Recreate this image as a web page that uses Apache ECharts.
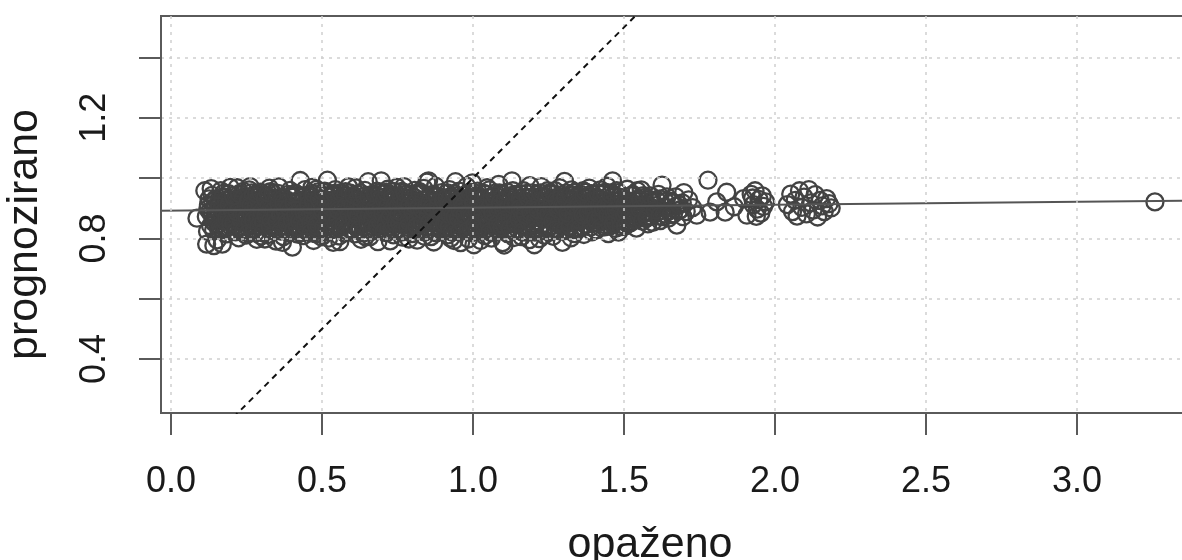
<!DOCTYPE html>
<html>
<head>
<meta charset="utf-8">
<script src="https://cdn.jsdelivr.net/npm/echarts@6/dist/echarts.min.js"></script>
<style>
html,body{margin:0;padding:0;background:#fff;}
#chart{width:1182px;height:560px;}
</style>
</head>
<body>
<div id="chart"></div>
<script>
// axis titles and ticks
const xTitle = 'opaženo';
const yTitle = 'prognozirano';
const xTicks = [0, 0.5, 1.0, 1.5, 2.0, 2.5, 3.0];
const yTicks = [0.4, 0.6, 0.8, 1.0, 1.2, 1.4];
const yLabels = [0.4, 0.8, 1.2];

// observed vs predicted points [opaženo, prognozirano]
const cloudLow = [
[0.086,0.867],[0.112,0.958],[0.118,0.781],[0.124,0.912],[0.131,0.842],[0.136,0.943],[0.142,0.776],[0.128,0.889],[0.147,0.930],[0.139,0.858],[0.121,0.823],[0.145,0.903],[0.133,0.965],
[0.153,0.795],[0.191,0.948],[0.167,0.861],[0.179,0.903],[0.158,0.827],[0.196,0.969],[0.172,0.884],[0.185,0.815],[0.162,0.921],[0.188,0.876],[0.176,0.938],[0.154,0.845],[0.194,0.897],[0.165,0.958],[0.181,0.833],[0.160,0.912],[0.198,0.869],[0.170,0.781],[0.187,0.929],[0.175,0.889],
[0.204,0.912],[0.243,0.853],[0.219,0.968],[0.231,0.826],[0.209,0.881],[0.247,0.937],[0.224,0.802],[0.236,0.895],[0.213,0.844],[0.240,0.956],[0.227,0.869],[0.205,0.925],[0.249,0.811],[0.216,0.903],[0.233,0.946],[0.211,0.862],[0.245,0.877],[0.221,0.835],[0.238,0.917],[0.228,0.889],
[0.252,0.839],[0.291,0.906],[0.266,0.951],[0.279,0.818],[0.258,0.892],[0.296,0.864],[0.271,0.927],[0.284,0.797],[0.262,0.972],[0.288,0.851],[0.275,0.883],[0.254,0.915],[0.294,0.941],[0.268,0.829],[0.281,0.872],[0.259,0.961],[0.298,0.808],[0.270,0.899],[0.286,0.935],[0.277,0.858],
[0.303,0.921],[0.342,0.873],[0.318,0.812],[0.329,0.955],[0.307,0.846],[0.347,0.903],[0.322,0.889],[0.336,0.934],[0.311,0.798],[0.339,0.824],[0.326,0.967],[0.304,0.866],[0.344,0.857],[0.315,0.942],[0.332,0.881],[0.309,0.908],[0.348,0.791],[0.320,0.834],[0.337,0.914],[0.325,0.878],
[0.352,0.884],[0.391,0.819],[0.366,0.937],[0.378,0.862],[0.357,0.971],[0.396,0.898],[0.372,0.806],[0.385,0.927],[0.361,0.851],[0.388,0.946],[0.375,0.873],[0.353,0.831],[0.394,0.959],[0.364,0.912],[0.381,0.842],[0.359,0.893],[0.398,0.869],[0.369,0.787],[0.386,0.905],[0.377,0.924],
[0.402,0.771],[0.441,0.913],[0.417,0.858],[0.428,0.992],[0.406,0.937],[0.447,0.826],[0.421,0.896],[0.435,0.871],[0.411,0.949],[0.438,0.809],[0.426,0.884],[0.404,0.838],[0.444,0.962],[0.415,0.867],[0.432,0.921],[0.409,0.902],[0.448,0.852],[0.419,0.814],[0.437,0.941],[0.424,0.879],
[0.453,0.901],[0.492,0.841],[0.467,0.969],[0.479,0.816],[0.457,0.866],[0.496,0.932],[0.472,0.793],[0.486,0.887],[0.461,0.944],[0.489,0.858],[0.476,0.912],[0.454,0.823],[0.494,0.876],[0.465,0.927],[0.482,0.963],[0.459,0.849],[0.498,0.805],[0.470,0.891],[0.487,0.954],[0.474,0.834]
];
const cloudMid = [
[0.503,0.864],[0.542,0.905],[0.518,0.993],[0.529,0.828],[0.507,0.918],[0.547,0.871],[0.522,0.801],[0.536,0.946],[0.511,0.853],[0.539,0.889],[0.526,0.937],[0.504,0.811],[0.544,0.962],[0.515,0.881],[0.532,0.843],[0.509,0.957],[0.548,0.898],[0.520,0.927],[0.537,0.787],[0.525,0.868],
[0.552,0.923],[0.591,0.832],[0.566,0.877],[0.578,0.955],[0.557,0.808],[0.596,0.901],[0.571,0.941],[0.585,0.859],[0.561,0.893],[0.588,0.971],[0.575,0.818],[0.553,0.869],[0.594,0.846],[0.564,0.936],[0.581,0.884],[0.559,0.789],[0.598,0.914],[0.569,0.853],[0.586,0.928],[0.574,0.897],
[0.603,0.846],[0.642,0.959],[0.618,0.903],[0.629,0.797],[0.607,0.935],[0.647,0.872],[0.622,0.825],[0.636,0.914],[0.611,0.968],[0.639,0.838],[0.626,0.886],[0.604,0.879],[0.644,0.806],[0.615,0.947],[0.632,0.861],[0.609,0.815],[0.648,0.925],[0.620,0.893],[0.637,0.851],[0.625,0.919],
[0.653,0.988],[0.691,0.866],[0.667,0.823],[0.679,0.931],[0.658,0.894],[0.696,0.991],[0.672,0.851],[0.685,0.789],[0.661,0.944],[0.688,0.908],[0.675,0.876],[0.654,0.918],[0.694,0.834],[0.665,0.862],[0.682,0.957],[0.659,0.806],[0.698,0.888],[0.670,0.927],[0.687,0.845],[0.677,0.901],
[0.703,0.912],[0.742,0.827],[0.718,0.963],[0.729,0.871],[0.707,0.843],[0.747,0.936],[0.722,0.896],[0.736,0.812],[0.711,0.879],[0.739,0.955],[0.726,0.792],[0.704,0.948],[0.744,0.884],[0.715,0.819],[0.732,0.921],[0.709,0.858],[0.748,0.969],[0.720,0.903],[0.737,0.866],[0.725,0.939],
[0.752,0.861],[0.791,0.918],[0.766,0.804],[0.778,0.947],[0.757,0.889],[0.796,0.839],[0.771,0.972],[0.785,0.873],[0.761,0.925],[0.788,0.798],[0.775,0.904],[0.753,0.832],[0.794,0.883],[0.764,0.956],[0.781,0.849],[0.759,0.911],[0.798,0.816],[0.769,0.868],[0.786,0.934],[0.774,0.892],
[0.803,0.938],[0.842,0.871],[0.818,0.826],[0.829,0.904],[0.807,0.959],[0.847,0.987],[0.822,0.848],[0.836,0.917],[0.811,0.882],[0.839,0.807],[0.826,0.949],[0.804,0.863],[0.844,0.895],[0.815,0.794],[0.832,0.928],[0.809,0.912],[0.848,0.839],[0.820,0.876],[0.837,0.966],[0.825,0.857],
[0.853,0.991],[0.891,0.884],[0.867,0.927],[0.879,0.818],[0.857,0.869],[0.896,0.952],[0.872,0.896],[0.885,0.841],[0.861,0.806],[0.888,0.913],[0.876,0.973],[0.854,0.934],[0.894,0.827],[0.865,0.858],[0.882,0.899],[0.859,0.944],[0.898,0.872],[0.870,0.788],[0.887,0.921],[0.874,0.851],
[0.903,0.869],[0.942,0.988],[0.918,0.812],[0.929,0.938],[0.907,0.897],[0.947,0.854],[0.922,0.962],[0.936,0.879],[0.911,0.834],[0.939,0.921],[0.926,0.801],[0.904,0.906],[0.944,0.846],[0.915,0.951],[0.932,0.887],[0.909,0.826],[0.948,0.911],[0.920,0.873],[0.937,0.793],[0.925,0.931],
[0.953,0.916],[0.991,0.852],[0.967,0.881],[0.979,0.973],[0.957,0.829],[0.996,0.907],[0.972,0.943],[0.985,0.798],[0.961,0.866],[0.988,0.937],[0.976,0.891],[0.954,0.957],[0.994,0.819],[0.965,0.901],[0.982,0.862],[0.959,0.786],[0.998,0.984],[0.970,0.838],[0.987,0.926],[0.975,0.876]
];
const cloudHigh = [
[1.003,0.779],[1.042,0.897],[1.018,0.941],[1.029,0.853],[1.007,0.912],[1.047,0.968],[1.022,0.824],[1.036,0.879],[1.011,0.863],[1.039,0.809],[1.026,0.932],[1.004,0.888],[1.044,0.843],[1.015,0.957],[1.032,0.904],[1.009,0.834],[1.048,0.921],[1.020,0.871],[1.037,0.949],[1.025,0.793],
[1.053,0.936],[1.091,0.867],[1.067,0.819],[1.079,0.908],[1.057,0.882],[1.096,0.946],[1.072,0.856],[1.085,0.979],[1.061,0.801],[1.088,0.828],[1.076,0.894],[1.054,0.961],[1.094,0.914],[1.065,0.847],[1.082,0.873],[1.059,0.923],[1.098,0.786],[1.070,0.902],[1.087,0.838],[1.075,0.951],
[1.103,0.778],[1.142,0.915],[1.118,0.876],[1.129,0.991],[1.107,0.842],[1.147,0.859],[1.122,0.929],[1.136,0.803],[1.111,0.904],[1.139,0.946],[1.126,0.864],[1.104,0.923],[1.144,0.881],[1.115,0.816],[1.132,0.958],[1.109,0.889],[1.148,0.831],[1.120,0.941],[1.137,0.897],[1.125,0.852],
[1.153,0.884],[1.191,0.936],[1.167,0.958],[1.179,0.821],[1.157,0.912],[1.196,0.869],[1.172,0.843],[1.185,0.901],[1.161,0.806],[1.188,0.975],[1.176,0.877],[1.154,0.852],[1.194,0.825],[1.165,0.926],[1.182,0.893],[1.159,0.947],[1.198,0.908],[1.170,0.862],[1.187,0.796],[1.175,0.919],
[1.203,0.779],[1.242,0.881],[1.218,0.912],[1.229,0.847],[1.207,0.936],[1.247,0.958],[1.222,0.868],[1.236,0.811],[1.211,0.893],[1.239,0.924],[1.226,0.972],[1.204,0.829],[1.244,0.902],[1.215,0.856],[1.232,0.941],[1.209,0.874],[1.248,0.834],[1.220,0.799],[1.237,0.889],[1.225,0.917],
[1.253,0.913],[1.291,0.846],[1.267,0.869],[1.279,0.937],[1.257,0.822],[1.296,0.787],[1.272,0.958],[1.285,0.884],[1.261,0.896],[1.288,0.905],[1.276,0.833],[1.254,0.948],[1.294,0.861],[1.265,0.807],[1.282,0.921],[1.259,0.875],[1.298,0.931],[1.270,0.852],[1.287,0.968],[1.275,0.893],
[1.303,0.989],[1.342,0.879],[1.318,0.838],[1.329,0.912],[1.307,0.866],[1.347,0.943],[1.322,0.891],[1.336,0.816],[1.311,0.927],[1.339,0.857],[1.326,0.961],[1.304,0.844],[1.344,0.903],[1.315,0.875],[1.332,0.829],[1.309,0.951],[1.348,0.868],[1.320,0.906],[1.337,0.935],[1.325,0.802],
[1.353,0.872],[1.391,0.924],[1.367,0.813],[1.379,0.889],[1.357,0.946],[1.396,0.851],[1.372,0.903],[1.385,0.967],[1.361,0.838],[1.388,0.876],[1.376,0.931],[1.354,0.897],[1.394,0.822],[1.365,0.958],[1.382,0.861],[1.359,0.914],[1.398,0.884],[1.370,0.847],[1.387,0.939],[1.375,0.869],
[1.403,0.917],[1.442,0.857],[1.418,0.879],[1.429,0.946],[1.407,0.828],[1.447,0.896],[1.422,0.961],[1.436,0.838],[1.411,0.891],[1.439,0.922],[1.426,0.868],[1.404,0.852],[1.444,0.973],[1.415,0.906],[1.432,0.884],[1.409,0.937],[1.448,0.816],[1.420,0.865],[1.437,0.901],[1.425,0.929],
[1.453,0.884],[1.462,0.991],[1.491,0.846],[1.467,0.924],[1.479,0.862],[1.457,0.951],[1.496,0.907],[1.472,0.833],[1.485,0.937],[1.461,0.872],[1.488,0.893],[1.476,0.958],[1.454,0.841],[1.494,0.876],[1.465,0.913],[1.482,0.821],[1.459,0.899]
];
// inner, densely overlapping part of the cloud
const cloudCore = [
[0.117,0.872],[0.126,0.931],[0.134,0.886],[0.141,0.826],[0.148,0.866],[0.122,0.898],[0.138,0.921],[0.144,0.851],
[0.151,0.874],[0.157,0.918],[0.163,0.836],[0.168,0.897],[0.173,0.949],[0.178,0.858],[0.183,0.925],[0.189,0.881],[0.195,0.843],[0.160,0.906],[0.166,0.828],[0.171,0.935],[0.177,0.889],[0.184,0.868],[0.192,0.911],[0.197,0.851],
[0.202,0.893],[0.207,0.851],[0.212,0.927],[0.217,0.873],[0.222,0.912],[0.228,0.839],[0.233,0.881],[0.239,0.933],[0.244,0.864],[0.248,0.902],[0.206,0.942],[0.214,0.822],[0.226,0.948],[0.235,0.857],[0.241,0.828],[0.219,0.887],
[0.251,0.871],[0.256,0.926],[0.261,0.849],[0.267,0.884],[0.272,0.943],[0.276,0.832],[0.282,0.906],[0.287,0.868],[0.292,0.921],[0.297,0.887],[0.255,0.817],[0.264,0.908],[0.273,0.861],[0.283,0.948],[0.290,0.841],[0.296,0.953],
[0.301,0.887],[0.306,0.853],[0.312,0.931],[0.317,0.868],[0.323,0.905],[0.327,0.842],[0.333,0.897],[0.338,0.949],[0.343,0.839],[0.349,0.924],[0.305,0.819],[0.314,0.877],[0.321,0.951],[0.331,0.862],[0.340,0.893],[0.346,0.881],
[0.351,0.857],[0.356,0.913],[0.362,0.878],[0.367,0.841],[0.371,0.932],[0.376,0.895],[0.382,0.868],[0.387,0.822],[0.393,0.887],[0.397,0.938],[0.354,0.949],[0.363,0.824],[0.373,0.918],[0.384,0.851],[0.390,0.903],[0.399,0.846],
[0.401,0.862],[0.407,0.918],[0.412,0.881],[0.418,0.838],[0.423,0.927],[0.427,0.892],[0.433,0.849],[0.439,0.906],[0.443,0.873],[0.449,0.931],[0.405,0.826],[0.414,0.948],[0.425,0.857],[0.431,0.819],[0.440,0.889],[0.446,0.842],
[0.451,0.879],[0.456,0.938],[0.462,0.851],[0.466,0.894],[0.471,0.922],[0.477,0.864],[0.483,0.906],[0.488,0.827],[0.493,0.899],[0.497,0.868],[0.455,0.912],[0.463,0.818],[0.473,0.947],[0.481,0.842],[0.490,0.931],[0.499,0.886],
[0.501,0.896],[0.506,0.839],[0.512,0.924],[0.517,0.872],[0.521,0.911],[0.527,0.856],[0.533,0.942],[0.538,0.868],[0.543,0.831],[0.549,0.917],[0.505,0.953],[0.514,0.822],[0.523,0.887],[0.531,0.902],[0.540,0.949],[0.546,0.849],
[0.551,0.862],[0.556,0.908],[0.562,0.837],[0.567,0.919],[0.572,0.871],[0.577,0.944],[0.582,0.826],[0.587,0.891],[0.592,0.951],[0.597,0.866],[0.554,0.893],[0.563,0.952],[0.573,0.846],[0.579,0.907],[0.590,0.879],[0.599,0.828],
[0.601,0.908],[0.606,0.866],[0.612,0.839],[0.616,0.927],[0.621,0.874],[0.627,0.951],[0.633,0.897],[0.638,0.818],[0.643,0.887],[0.649,0.859],[0.605,0.943],[0.613,0.883],[0.623,0.829],[0.631,0.912],[0.640,0.939],[0.646,0.903],
[0.651,0.852],[0.656,0.881],[0.662,0.912],[0.667,0.869],[0.671,0.838],[0.676,0.946],[0.681,0.889],[0.687,0.922],[0.692,0.858],[0.697,0.903],[0.655,0.938],[0.664,0.827],[0.673,0.896],[0.683,0.842],[0.690,0.951],[0.699,0.874],
[0.701,0.883],[0.706,0.928],[0.712,0.851],[0.717,0.907],[0.721,0.839],[0.727,0.886],[0.733,0.944],[0.738,0.893],[0.743,0.861],[0.749,0.919],[0.705,0.822],[0.714,0.953],[0.724,0.869],[0.731,0.831],[0.740,0.907],[0.746,0.848],
[0.751,0.907],[0.756,0.851],[0.762,0.939],[0.767,0.884],[0.772,0.826],[0.777,0.921],[0.782,0.898],[0.787,0.856],[0.793,0.946],[0.797,0.871],[0.754,0.879],[0.763,0.821],[0.773,0.952],[0.783,0.836],[0.790,0.909],[0.799,0.887],
[0.801,0.889],[0.806,0.832],[0.812,0.921],[0.817,0.867],[0.821,0.903],[0.827,0.946],[0.832,0.852],[0.838,0.884],[0.843,0.929],[0.849,0.869],[0.805,0.912],[0.814,0.841],[0.823,0.955],[0.831,0.896],[0.840,0.821],[0.846,0.907],
[0.851,0.876],[0.856,0.919],[0.862,0.838],[0.867,0.891],[0.871,0.946],[0.877,0.862],[0.883,0.907],[0.888,0.834],[0.893,0.879],[0.899,0.935],[0.855,0.852],[0.864,0.902],[0.873,0.823],[0.881,0.939],[0.890,0.866],[0.896,0.895],
[0.901,0.927],[0.906,0.881],[0.912,0.856],[0.917,0.901],[0.921,0.839],[0.927,0.914],[0.933,0.863],[0.938,0.948],[0.943,0.891],[0.949,0.826],[0.905,0.849],[0.914,0.935],[0.923,0.878],[0.931,0.821],[0.940,0.872],[0.946,0.941],
[0.951,0.868],[0.956,0.897],[0.962,0.931],[0.967,0.849],[0.971,0.912],[0.977,0.859],[0.983,0.948],[0.988,0.884],[0.993,0.837],[0.999,0.899],[0.955,0.822],[0.964,0.918],[0.973,0.878],[0.981,0.824],[0.990,0.953],[0.996,0.873],
[1.001,0.918],[1.006,0.846],[1.012,0.894],[1.017,0.927],[1.021,0.872],[1.027,0.839],[1.033,0.913],[1.038,0.862],[1.043,0.946],[1.049,0.889],[1.005,0.951],[1.014,0.826],[1.023,0.901],[1.031,0.881],[1.040,0.829],[1.046,0.868],
[1.051,0.851],[1.056,0.902],[1.062,0.938],[1.067,0.874],[1.071,0.922],[1.077,0.831],[1.083,0.889],[1.088,0.951],[1.093,0.861],[1.099,0.897],[1.055,0.822],[1.064,0.887],[1.073,0.943],[1.081,0.848],[1.090,0.918],[1.096,0.836],
[1.101,0.897],[1.106,0.928],[1.112,0.851],[1.117,0.903],[1.121,0.872],[1.127,0.939],[1.133,0.826],[1.138,0.878],[1.143,0.921],[1.149,0.896],[1.105,0.862],[1.114,0.953],[1.123,0.834],[1.131,0.911],[1.140,0.847],[1.146,0.944],
[1.151,0.866],[1.156,0.932],[1.162,0.884],[1.167,0.839],[1.171,0.907],[1.177,0.949],[1.183,0.857],[1.188,0.919],[1.193,0.874],[1.199,0.841],[1.155,0.899],[1.164,0.821],[1.173,0.878],[1.181,0.936],[1.190,0.889],[1.196,0.951],
[1.201,0.903],[1.206,0.858],[1.212,0.946],[1.217,0.881],[1.221,0.926],[1.227,0.843],[1.233,0.907],[1.238,0.864],[1.243,0.936],[1.249,0.872],[1.205,0.821],[1.214,0.895],[1.223,0.951],[1.231,0.826],[1.240,0.888],[1.246,0.917],
[1.251,0.882],[1.256,0.839],[1.262,0.917],[1.267,0.903],[1.271,0.871],[1.277,0.928],[1.283,0.849],[1.288,0.889],[1.293,0.944],[1.299,0.866],[1.255,0.952],[1.264,0.857],[1.273,0.829],[1.281,0.896],[1.290,0.824],[1.296,0.909],
[1.301,0.904],[1.306,0.936],[1.312,0.859],[1.317,0.897],[1.321,0.841],[1.327,0.924],[1.333,0.876],[1.338,0.953],[1.343,0.861],[1.349,0.889],[1.305,0.826],[1.314,0.883],[1.323,0.946],[1.331,0.907],[1.340,0.834],[1.346,0.918],
[1.351,0.912],[1.356,0.859],[1.362,0.893],[1.367,0.938],[1.371,0.871],[1.377,0.846],[1.383,0.921],[1.388,0.903],[1.393,0.948],[1.399,0.861],[1.355,0.833],[1.364,0.877],[1.373,0.953],[1.381,0.887],[1.390,0.838],[1.396,0.906],
[1.401,0.889],[1.406,0.938],[1.412,0.851],[1.417,0.908],[1.421,0.874],[1.427,0.917],[1.433,0.846],[1.438,0.953],[1.443,0.892],[1.449,0.869],[1.405,0.864],[1.414,0.949],[1.423,0.836],[1.431,0.897],[1.440,0.906],[1.446,0.878],
[1.451,0.911],[1.456,0.866],[1.462,0.939],[1.467,0.887],[1.471,0.853],[1.477,0.903],[1.483,0.927],[1.488,0.861],[1.493,0.919],[1.499,0.881],[1.455,0.946],[1.464,0.848],[1.473,0.894],[1.481,0.952],[1.490,0.839],[1.496,0.934],
[1.501,0.878],[1.507,0.927],[1.513,0.894],[1.519,0.856],[1.524,0.941],[1.531,0.883],[1.537,0.908],[1.542,0.866],[1.548,0.931],[1.512,0.849],[1.528,0.917],[1.545,0.889],
[1.552,0.911],[1.558,0.879],[1.564,0.942],[1.571,0.866],[1.577,0.904],[1.583,0.929],[1.589,0.887],[1.595,0.853],[1.562,0.896],[1.581,0.872],[1.593,0.926],
[1.604,0.909],[1.611,0.887],[1.619,0.931],[1.627,0.872],[1.634,0.904],[1.642,0.938],[1.649,0.891],[1.657,0.923],[1.664,0.881],[1.672,0.907],[1.681,0.892],[1.693,0.918]
];
const cloudTail = [
[1.503,0.912],[1.541,0.834],[1.517,0.869],[1.529,0.946],[1.507,0.887],[1.546,0.901],[1.522,0.852],[1.536,0.925],[1.511,0.963],[1.539,0.876],[1.526,0.893],[1.504,0.841],[1.544,0.958],[1.515,0.918],[1.532,0.862],
[1.553,0.897],[1.591,0.873],[1.567,0.936],[1.579,0.848],[1.557,0.961],[1.596,0.918],[1.572,0.884],[1.585,0.906],[1.561,0.857],[1.588,0.941],[1.576,0.868],[1.554,0.926],
[1.626,0.977],[1.620,0.859],[1.641,0.902],[1.607,0.928],[1.633,0.881],[1.614,0.946],[1.647,0.867],[1.603,0.893],[1.638,0.921],[1.618,0.874],
[1.675,0.844],[1.662,0.917],[1.688,0.896],[1.671,0.938],[1.695,0.872],[1.683,0.911],[1.706,0.889],[1.714,0.928],[1.727,0.902],[1.656,0.879],[1.741,0.877],[1.698,0.952],
[1.778,0.993],[1.785,0.887],[1.840,0.953],[1.835,0.887],[1.807,0.921],[1.865,0.905],[1.907,0.877],[1.896,0.932],[1.921,0.946],[1.928,0.912],[1.934,0.958],[1.941,0.897],[1.947,0.929],[1.953,0.884],[1.958,0.941],[1.962,0.906],[1.938,0.873],[1.969,0.921],[1.926,0.934],
[2.041,0.912],[2.052,0.947],[2.058,0.889],[2.067,0.926],[2.073,0.874],[2.081,0.958],[2.089,0.903],[2.096,0.937],[2.104,0.881],[2.112,0.962],[2.118,0.918],[2.126,0.894],[2.133,0.945],[2.141,0.871],[2.149,0.926],[2.156,0.908],[2.163,0.889],[2.171,0.932],[2.179,0.915],[2.186,0.901],
[3.258,0.921]
];

// reference line y = x and fitted regression line (end points)
const identityLine = [[0, 0], [2, 2]];
const fitLine = [[-0.05, 0.8915], [3.40, 0.9255]];

const points = cloudLow.concat(cloudMid, cloudHigh, cloudCore, cloudTail);

const FONT = "'Liberation Sans', Arial, Helvetica, sans-serif";
const chart = echarts.init(document.getElementById('chart'), null, {renderer: 'canvas'});

chart.setOption({
  animation: false,
  backgroundColor: '#ffffff',
  grid: {
    left: 161, top: 16, right: -6, bottom: 147,
    outerBoundsMode: 'none',
    containLabel: false,
    show: true, borderColor: '#5a5a5a', borderWidth: 2, backgroundColor: 'transparent'
  },
  xAxis: {
    type: 'value',
    min: -0.0331, max: 3.3675,
    z: 5,
    name: xTitle,
    nameLocation: 'middle',
    nameGap: 111,
    nameTextStyle: {fontFamily: FONT, fontSize: 43, color: '#1a1a1a', padding: [0, 49, 0, 0]},
    axisLine: {show: true, onZero: false, lineStyle: {color: '#5a5a5a', width: 2}},
    axisTick: {show: true, length: 22, customValues: xTicks, lineStyle: {color: '#5a5a5a', width: 2}},
    axisLabel: {
      customValues: xTicks, margin: 51,
      fontFamily: FONT, fontSize: 36, color: '#1a1a1a',
      formatter: v => v.toFixed(1)
    },
    splitLine: {show: true, lineStyle: {color: '#d0d0d0', width: 1.5, type: [3, 5]}}
  },
  yAxis: {
    type: 'value',
    min: 0.2209, max: 1.5376,
    z: 5,
    name: yTitle,
    nameLocation: 'middle',
    nameGap: 114,
    nameRotate: 90,
    nameTextStyle: {fontFamily: FONT, fontSize: 43, color: '#1a1a1a', padding: [0, 40, 0, 0]},
    axisLine: {show: true, onZero: false, lineStyle: {color: '#5a5a5a', width: 2}},
    axisTick: {show: true, length: 22, customValues: yTicks, lineStyle: {color: '#5a5a5a', width: 2}},
    axisLabel: {
      customValues: yLabels, rotate: 90, margin: 48,
      fontFamily: FONT, fontSize: 36, color: '#1a1a1a',
      formatter: v => v.toFixed(1)
    },
    splitLine: {show: true, lineStyle: {color: '#d0d0d0', width: 1.5, type: [3, 5]}}
  },
  series: [
    {
      type: 'scatter',
      data: points,
      symbol: 'circle',
      symbolSize: 17,
      z: 2,
      large: false,
      itemStyle: {color: 'rgba(255,255,255,0)', borderColor: '#434343', borderWidth: 2.3, opacity: 1},
      emphasis: {disabled: true},
      silent: true
    },
    {
      type: 'line',
      data: fitLine,
      showSymbol: false,
      z: 3,
      clip: true,
      lineStyle: {color: '#555555', width: 2},
      silent: true
    },
    {
      type: 'line',
      data: identityLine,
      showSymbol: false,
      z: 6,
      clip: true,
      lineStyle: {color: '#111111', width: 2, type: [6, 5]},
      silent: true
    }
  ]
});
</script>
</body>
</html>
